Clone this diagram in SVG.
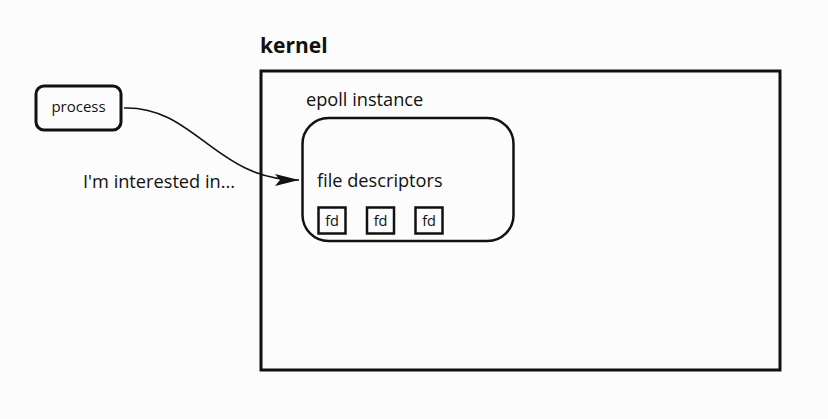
<svg xmlns="http://www.w3.org/2000/svg" width="828" height="419" viewBox="0 0 828 419">
<style>
text{font-family:"Open Sans","Noto Sans","DejaVu Sans",sans-serif;fill:#111}
.box{fill:none;stroke:#111}
.t16{font-size:18.2px}
.fd{font-size:14.5px;text-anchor:middle}
</style>
<defs>
<marker id="arr" markerUnits="userSpaceOnUse" markerWidth="26" markerHeight="16" refX="24" refY="8" orient="auto">
<path d="M0,2 L24,8 L0,14 L5,8 Z" fill="#111"/>
</marker>
</defs>
<rect width="828" height="419" fill="#fcfcfc"/>
<g id="kernel">
<rect class="box" x="261" y="71" width="519" height="299" stroke-width="3"/>
<text x="260" y="53" font-size="21" font-weight="bold">kernel</text>
</g>
<g id="process">
<rect class="box" x="36" y="86" width="85" height="44" rx="8" stroke-width="3"/>
<text x="78.5" y="112" font-size="15" text-anchor="middle">process</text>
</g>
<g id="epoll">
<rect class="box" x="302.5" y="118" width="211" height="123" rx="26" stroke-width="2.5"/>
<text class="t16" x="306" y="106">epoll instance</text>
<text class="t16" x="317" y="187">file descriptors</text>
</g>
<g id="fd1"><rect class="box" x="318.5" y="207.5" width="27" height="26" stroke-width="2.5"/><text class="fd" x="332" y="225.5">fd</text></g>
<g id="fd2"><rect class="box" x="367" y="207.5" width="27" height="26" stroke-width="2.5"/><text class="fd" x="380.5" y="225.5">fd</text></g>
<g id="fd3"><rect class="box" x="415.5" y="207.5" width="27" height="26" stroke-width="2.5"/><text class="fd" x="429" y="225.5">fd</text></g>
<g id="connectors">
<path d="M124,108 C195,106 215,180 299,180" fill="none" stroke="#111" stroke-width="1.6" marker-end="url(#arr)"/>
<text class="t16" x="83" y="188">I'm interested in...</text>
</g>
</svg>
